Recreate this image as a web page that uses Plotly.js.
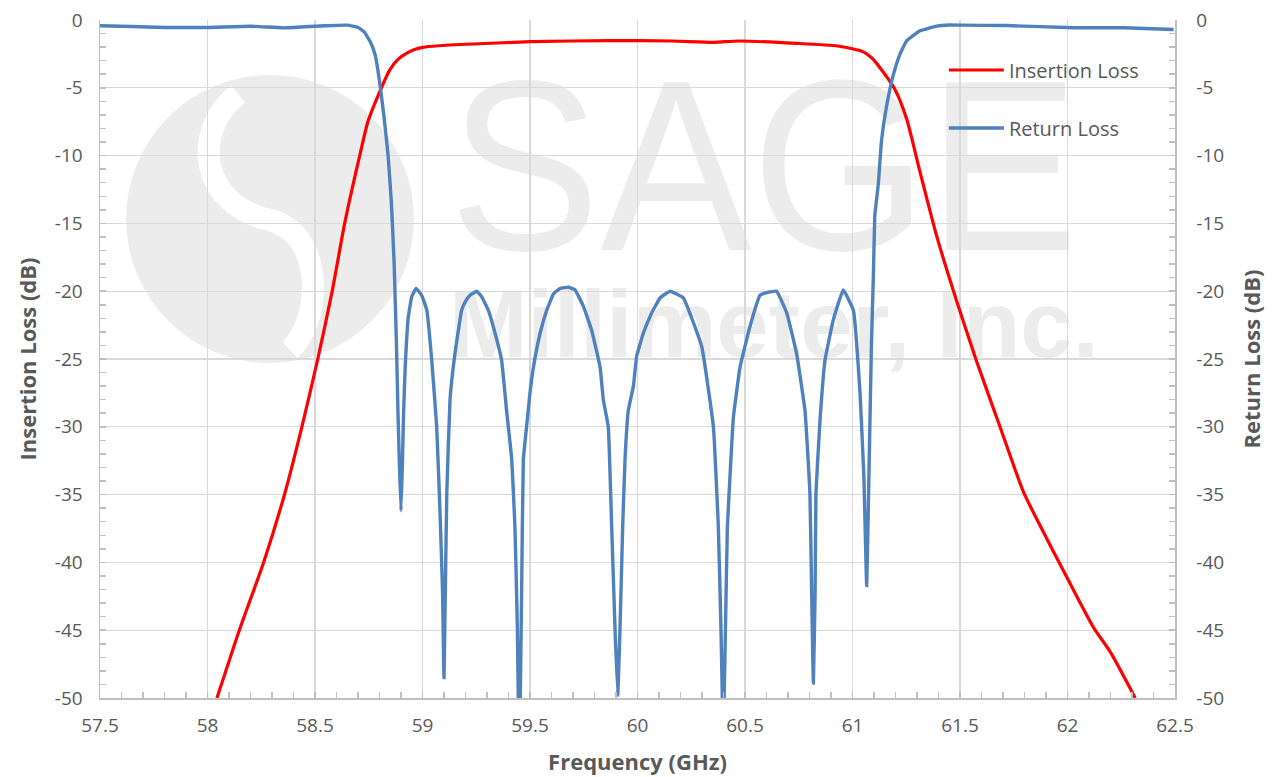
<!DOCTYPE html>
<html>
<head>
<meta charset="utf-8">
<script src="https://cdn.plot.ly/plotly-3.0.1.min.js"></script>
<style>html,body{margin:0;padding:0;background:#fff;}#chart{width:1275px;height:777px;}</style>
</head>
<body>
<div id="chart"></div>
<script>
// Insertion Loss (red)
const ilFreq = [58.044,58.148,58.261,58.358,58.439,58.513,58.58,58.638,58.708,58.746,58.809,58.847,58.886,58.925,58.96,59.002,59.073,59.234,59.504,59.871,60.160,60.353,60.469,60.739,60.932,61.048,61.09,61.127,61.197,61.252,61.314,61.391,61.484,61.578,61.686,61.795,61.873,61.997,62.121,62.199,62.315];
const ilDb   = [-50,-45,-40,-35,-30,-25,-20,-15,-10,-7.5,-5,-3.7,-2.9,-2.46,-2.2,-2.02,-1.9,-1.77,-1.6,-1.52,-1.55,-1.65,-1.55,-1.72,-1.92,-2.33,-2.8,-3.5,-5.1,-7.3,-11.2,-15.9,-20.7,-25.2,-30,-34.8,-37.3,-41.1,-44.8,-46.6,-50];

// Return Loss (blue)
const rlFreq = [57.5,57.65,57.8,58.0,58.2,58.35,58.45,58.55,58.65,58.70,58.73,58.76,58.78,58.80,58.82,58.84,58.855,58.868,58.879,58.886,58.893,58.900,58.906,58.912,58.919,58.934,58.950,58.970,58.996,59.020,59.043,59.066,59.081,59.093,59.100,59.106,59.113,59.128,59.151,59.182,59.198,59.221,59.252,59.275,59.306,59.329,59.368,59.391,59.415,59.430,59.441,59.450,59.461,59.469,59.484,59.500,59.516,59.547,59.578,59.609,59.640,59.678,59.709,59.748,59.787,59.826,59.841,59.864,59.880,59.895,59.908,59.919,59.931,59.942,59.957,59.981,59.996,60.027,60.066,60.105,60.151,60.213,60.299,60.353,60.376,60.388,60.399,60.412,60.418,60.430,60.446,60.477,60.523,60.570,60.601,60.647,60.694,60.740,60.779,60.802,60.810,60.818,60.826,60.830,60.849,60.872,60.911,60.957,61.004,61.035,61.053,61.066,61.078,61.088,61.097,61.104,61.120,61.135,61.158,61.189,61.220,61.252,61.314,61.391,61.45,61.5,61.717,62.028,62.261,62.494];
const rlDb   = [-0.42,-0.48,-0.55,-0.55,-0.46,-0.58,-0.5,-0.42,-0.38,-0.55,-0.9,-1.7,-2.6,-4.5,-7.0,-10.0,-13.4,-17.9,-24,-29,-33,-36.2,-33,-29,-25.8,-21.9,-20.4,-19.8,-20.3,-21.4,-25.1,-30.0,-36.1,-42,-48.5,-42.3,-34.9,-28.0,-24.6,-21.4,-20.8,-20.3,-20.0,-20.4,-21.4,-22.6,-25.1,-28.8,-32.4,-37.4,-44.7,-55,-42.3,-32.4,-30.0,-27.5,-25.6,-23.1,-21.4,-20.2,-19.8,-19.7,-19.9,-21.1,-22.9,-25.6,-28.0,-30.0,-37.4,-44.7,-49.8,-44.7,-37.4,-32.4,-28.8,-27.0,-24.8,-23.1,-21.6,-20.5,-20.0,-20.5,-24.1,-30.0,-37.4,-44.7,-53,-42.3,-37.4,-33.7,-29.3,-25.6,-22.6,-20.3,-20.1,-20.0,-21.6,-24.6,-28.8,-34.9,-42.3,-48.9,-42.3,-34.9,-29.5,-25.1,-22.1,-19.9,-21.4,-27.5,-33.7,-41.7,-32.2,-24,-18.9,-14.4,-12.1,-8.9,-6.4,-4.1,-2.55,-1.53,-0.8,-0.45,-0.37,-0.38,-0.41,-0.57,-0.57,-0.7];

// Axis ticks
const xTickVals = [57.5,58,58.5,59,59.5,60,60.5,61,61.5,62,62.5];
const xTickText = ["57.5","58","58.5","59","59.5","60","60.5","61","61.5","62","62.5"];
const yTickVals = [0,-5,-10,-15,-20,-25,-30,-35,-40,-45,-50];
const yTickText = ["0","-5","-10","-15","-20","-25","-30","-35","-40","-45","-50"];

const seriesNames = ["Insertion Loss", "Return Loss"];
const xTitle = "Frequency (GHz)";
const yTitle = "Insertion Loss (dB)";
const y2Title = "Return Loss (dB)";

const txt = '#595959';
const fontFam = '"Open Sans", "Noto Sans", sans-serif';

// watermark (plot-area pixel coords 1075 x 678)
const wm = `<svg xmlns="http://www.w3.org/2000/svg" width="1075" height="678" viewBox="0 0 1075 678">
<circle cx="170" cy="199" r="144" fill="#ececec"/>
<path d="M 138 74 C 92 110 98 184 170 200 C 225 214 222 300 190 330" fill="none" stroke="#ffffff" stroke-width="22"/>
<text x="349" y="230" font-family="Liberation Sans, Arial, sans-serif" font-size="244" fill="#ececec" textLength="630" lengthAdjust="spacingAndGlyphs">SAGE</text>
<text x="349" y="337" font-family="Liberation Sans, Arial, sans-serif" font-weight="bold" font-size="94" fill="#ececec" textLength="650" lengthAdjust="spacingAndGlyphs">Millimeter, Inc.</text>
</svg>`;
const wmSrc = 'data:image/svg+xml;charset=utf-8,' + encodeURIComponent(wm);

const traces = [
  {x: ilFreq, y: ilDb, name: seriesNames[0], type: 'scatter', mode: 'lines',
   line: {color: '#ff0000', width: 3.2, shape: 'spline', smoothing: 0.6}, legendgroup: 'a'},
  {x: rlFreq, y: rlDb, name: seriesNames[1], type: 'scatter', mode: 'lines', yaxis: 'y2',
   line: {color: '#4f81bd', width: 3.4, shape: 'spline', smoothing: 0.3}, legendgroup: 'b'}
];

const axCommon = {
  showline: true, linecolor: '#bfbfbf', linewidth: 1.5,
  ticks: 'inside', ticklen: 6, tickcolor: '#bfbfbf', tickwidth: 1.5,
  tickfont: {family: fontFam, size: 19, color: txt},
  zeroline: false
};

const layout = {
  width: 1275, height: 777,
  margin: {l: 100, r: 100, t: 20, b: 79},
  paper_bgcolor: '#ffffff', plot_bgcolor: 'rgba(0,0,0,0)',
  font: {family: fontFam, color: txt},
  showlegend: true,
  legend: {x: 0.785, y: 0.955, xanchor: 'left', yanchor: 'top', bgcolor: 'rgba(0,0,0,0)',
           font: {family: fontFam, size: 20, color: txt}, tracegroupgap: 29, itemwidth: 55},
  xaxis: Object.assign({}, axCommon, {
    range: [57.5, 62.5], tickmode: 'array', tickvals: xTickVals, ticktext: xTickText,
    showgrid: true, gridcolor: '#d9d9d9', gridwidth: 1.3,
    minor: {dtick: 0.1, tick0: 57.5, ticks: 'inside', ticklen: 6, tickcolor: '#bfbfbf', tickwidth: 1.5, showgrid: false},
    ticklabelstandoff: 10,
    title: {text: xTitle, font: {family: fontFam, size: 22, color: txt, weight: 'bold'}, standoff: 17}
  }),
  yaxis: Object.assign({}, axCommon, {
    range: [-50, 0], tickmode: 'array', tickvals: yTickVals, ticktext: yTickText,
    showgrid: true, gridcolor: '#d9d9d9', gridwidth: 1.3,
    minor: {dtick: 1, tick0: 0, ticks: 'inside', ticklen: 6, tickcolor: '#bfbfbf', tickwidth: 1.5, showgrid: false},
    ticklabelstandoff: 12,
    title: {text: yTitle, font: {family: fontFam, size: 22, color: txt, weight: 'bold'}, standoff: 12}
  }),
  yaxis2: Object.assign({}, axCommon, {
    range: [-50, 0], tickmode: 'array', tickvals: yTickVals, ticktext: yTickText,
    overlaying: 'y', side: 'right', showgrid: false,
    minor: {dtick: 1, tick0: 0, ticks: 'inside', ticklen: 6, tickcolor: '#bfbfbf', tickwidth: 1.5, showgrid: false},
    ticklabelstandoff: 16,
    title: {text: y2Title, font: {family: fontFam, size: 22, color: txt, weight: 'bold'}, standoff: 21}
  }),
  images: [{source: wmSrc, xref: 'paper', yref: 'paper', x: 0, y: 1, sizex: 1, sizey: 1,
            xanchor: 'left', yanchor: 'top', sizing: 'stretch', layer: 'below'}]
};

Plotly.newPlot('chart', traces, layout, {displayModeBar: false, staticPlot: true});
</script>
</body>
</html>
